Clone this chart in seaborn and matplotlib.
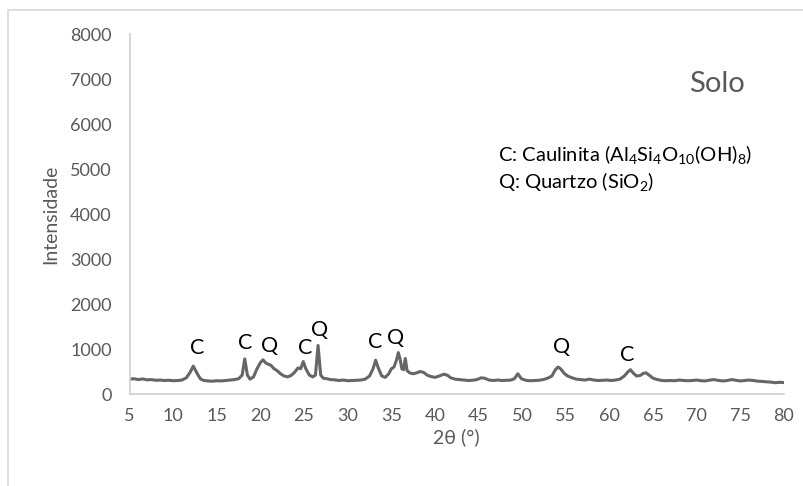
import matplotlib
matplotlib.use('Agg')
import matplotlib.pyplot as plt
import matplotlib.patches as mpatches
import seaborn as sns
import pandas as pd

# 衍射数据
two_theta = [5.0, 5.5, 6.0, 6.5, 7.0, 7.5, 8.0, 8.5, 9.0, 9.5, 10.0, 10.5, 11.0, 11.5, 11.9, 12.3, 12.7, 13.1,
             13.5, 14.0, 14.5, 15.0, 15.5, 16.0, 16.5, 17.0, 17.5, 17.9, 18.2, 18.5, 18.8, 19.2, 19.6, 20.0,
             20.3, 20.6, 20.9, 21.2, 21.5, 21.9, 22.3, 22.7, 23.1, 23.5, 23.9, 24.3, 24.6, 24.9, 25.2, 25.6,
             26.0, 26.3, 26.6, 26.9, 27.2, 27.6, 28.0, 28.5, 29.0, 29.5, 30.0, 30.5, 31.0, 31.5, 32.0, 32.5,
             32.9, 33.2, 33.5, 33.9, 34.3, 34.7, 35.0, 35.3, 35.6, 35.8, 36.0, 36.2, 36.4, 36.6, 36.8, 37.1,
             37.5, 37.9, 38.3, 38.7, 39.1, 39.5, 40.0, 40.5, 41.0, 41.4, 41.8, 42.3, 42.8, 43.3, 43.8, 44.3,
             44.8, 45.3, 45.7, 46.2, 46.7, 47.2, 47.7, 48.2, 48.7, 49.1, 49.5, 49.9, 50.4, 50.9, 51.4, 51.9,
             52.4, 52.9, 53.4, 53.8, 54.1, 54.4, 54.8, 55.2, 55.7, 56.2, 56.7, 57.2, 57.7, 58.2, 58.7, 59.2,
             59.7, 60.2, 60.7, 61.2, 61.7, 62.1, 62.4, 62.7, 63.1, 63.5, 63.9, 64.2, 64.6, 65.0, 65.5, 66.0,
             66.5, 67.0, 67.5, 68.0, 68.5, 69.0, 69.5, 70.0, 70.5, 71.0, 71.5, 72.0, 72.5, 73.0, 73.5, 74.0,
             74.5, 75.0, 75.5, 76.0, 76.5, 77.0, 77.5, 78.0, 78.5, 79.0, 79.5, 80.0]
intensidade = [330, 340, 320, 335, 315, 320, 305, 310, 300, 305, 295, 300, 310, 360, 470, 620, 470, 340,
               300, 290, 285, 295, 290, 300, 310, 320, 340, 420, 780, 420, 330, 380, 560, 700,
               760, 690, 660, 640, 570, 520, 450, 400, 380, 410, 480, 580, 560, 720, 560, 420,
               380, 420, 1080, 420, 350, 340, 320, 315, 300, 310, 295, 300, 305, 310, 330, 400,
               560, 750, 580, 400, 370, 450, 560, 600, 760, 920, 780, 560, 540, 790, 520, 470,
               450, 470, 500, 480, 420, 390, 370, 400, 440, 420, 360, 330, 320, 310, 300, 305,
               320, 360, 350, 310, 300, 310, 300, 305, 310, 340, 450, 340, 305, 295, 300, 305,
               320, 350, 400, 540, 600, 560, 460, 400, 360, 330, 320, 310, 330, 310, 300, 305,
               310, 300, 310, 330, 400, 490, 540, 470, 400, 410, 460, 470, 410, 350, 320, 300,
               295, 300, 295, 310, 300, 295, 300, 310, 295, 290, 310, 320, 300, 290, 300, 320,
               305, 290, 300, 310, 300, 285, 280, 270, 265, 250, 260, 255]

# 峰标注
peak_labels = ['C', 'C', 'Q', 'C', 'Q', 'C', 'Q', 'Q', 'C']
peak_x = [12.8, 18.3, 21.0, 25.1, 26.8, 33.1, 35.5, 54.5, 62.0]
peak_y = [1020, 1130, 1070, 1020, 1420, 1160, 1240, 1040, 870]

ticks_x = list(range(5, 81, 5))
ticks_y = list(range(0, 8001, 1000))

sns.set_style("white")
plt.rcParams['font.family'] = ['Lato', 'DejaVu Sans']
plt.rcParams['mathtext.fontset'] = 'custom'
plt.rcParams['mathtext.rm'] = 'Lato'
plt.rcParams['mathtext.it'] = 'Lato'

df = pd.DataFrame({'2theta': two_theta, 'I': intensidade})

fig = plt.figure(figsize=(8.04, 4.86), dpi=100)
ax = fig.add_axes([0.1612, 0.1893, 0.9751 - 0.1612, 0.930 - 0.1893])

sns.lineplot(data=df, x='2theta', y='I', color='#666666', linewidth=2.2, ax=ax)

ax.set_xlim(5, 80)
ax.set_ylim(0, 8000)
ax.set_xticks(ticks_x)
ax.set_yticks(ticks_y)

grey_line = '#d0d0d0'
txt_grey = '#595959'
for s in ['top', 'right']:
    ax.spines[s].set_visible(False)
for s in ['left', 'bottom']:
    ax.spines[s].set_color(grey_line)
    ax.spines[s].set_linewidth(1.2)

ax.tick_params(axis='x', direction='out', length=5, width=1.2, color=grey_line,
               labelsize=13, labelcolor=txt_grey, pad=5)
ax.tick_params(axis='y', direction='out', length=5, width=1.2, color=grey_line,
               labelsize=13, labelcolor=txt_grey, pad=8)

ax.set_xlabel('2θ (°)', fontsize=14, color=txt_grey, labelpad=3)
ax.set_ylabel('Intensidade', fontsize=14, color=txt_grey, labelpad=8)

for lab, px, py in zip(peak_labels, peak_x, peak_y):
    ax.text(px, py, lab, fontsize=15.5, color='black', ha='center', va='center')

ax.text(0.898, 0.861, 'Solo', transform=ax.transAxes, fontsize=21, color=txt_grey,
        ha='center', va='center')
ax.text(0.563, 0.664, r'C: Caulinita (Al$_4$Si$_4$O$_{10}$(OH)$_8$)', transform=ax.transAxes,
        fontsize=14.5, color='black', ha='left', va='center')
ax.text(0.563, 0.589, r'Q: Quartzo (SiO$_2$)', transform=ax.transAxes,
        fontsize=14.5, color='black', ha='left', va='center')

# 图表区边框
border = mpatches.Rectangle((8 / 804, -0.1), 1.2, 1 - 10 / 486 + 0.1, transform=fig.transFigure,
                            fill=False, edgecolor='#d9d9d9', linewidth=1.2)
fig.patches.append(border)

fig.savefig('out.png', dpi=100)
